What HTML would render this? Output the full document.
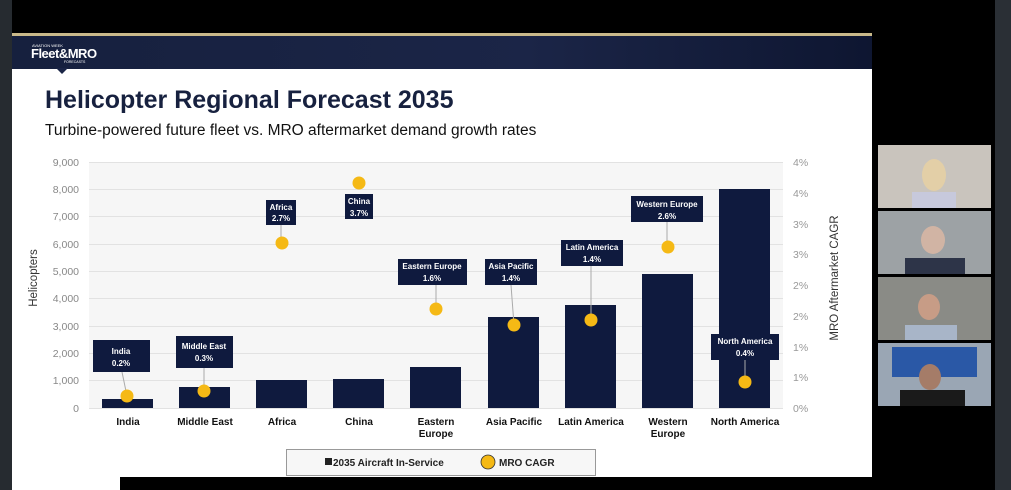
<!DOCTYPE html>
<html><head><meta charset="utf-8"><style>
body{margin:0;width:1011px;height:490px;overflow:hidden;background:#000;position:relative;font-family:"Liberation Sans",sans-serif}
</style></head><body>
<div style="position:absolute;left:0;top:0;width:12px;height:490px;background:#262b30"></div>
<div style="position:absolute;left:995px;top:0;width:16px;height:490px;background:#2a2f35"></div>
<div style="position:absolute;left:12px;top:33px;width:860px;height:3px;background:#c9b98a"></div>
<div style="position:absolute;left:12px;top:36px;width:860px;height:33px;background:linear-gradient(90deg,#16203e,#1b2547 60%,#0e1631)"></div>
<div style="position:absolute;left:12px;top:69px;width:860px;height:421px;background:#fff"></div>
<div style="position:absolute;left:120px;top:477px;width:752px;height:13px;background:#000"></div>
<div style="position:absolute;left:32px;top:43px;color:#fff;font-size:4px">AVIATION WEEK</div>
<div style="position:absolute;left:31px;top:46px;color:#fff;font-size:13px;font-weight:bold;letter-spacing:-0.5px">Fleet&amp;MRO</div>
<div style="position:absolute;left:64px;top:60px;color:#fff;font-size:3.5px">FORECASTS</div>
<div style="position:absolute;left:56px;top:68px;width:0;height:0;border-left:6px solid transparent;border-right:6px solid transparent;border-top:6px solid #1b2547"></div>
<div style="position:absolute;left:45px;top:86px;color:#17213f;font-size:25px;font-weight:bold">Helicopter Regional Forecast 2035</div>
<div style="position:absolute;left:45px;top:122px;color:#111;font-size:15.5px">Turbine-powered future fleet vs. MRO aftermarket demand growth rates</div>
<svg style="position:absolute;left:0;top:0" width="1011" height="490" font-family="Liberation Sans, sans-serif">
<rect x="89" y="162" width="694" height="246" fill="#f6f6f6"/>
<g stroke="#e2e2e2" stroke-width="1">
<line x1="89" x2="783" y1="162.5" y2="162.5"/><line x1="89" x2="783" y1="189.5" y2="189.5"/><line x1="89" x2="783" y1="216.5" y2="216.5"/><line x1="89" x2="783" y1="244.5" y2="244.5"/><line x1="89" x2="783" y1="271.5" y2="271.5"/><line x1="89" x2="783" y1="298.5" y2="298.5"/><line x1="89" x2="783" y1="326.5" y2="326.5"/><line x1="89" x2="783" y1="353.5" y2="353.5"/><line x1="89" x2="783" y1="380.5" y2="380.5"/><line x1="89" x2="783" y1="408.5" y2="408.5"/>
</g>
<g font-size="10.5" fill="#888" text-anchor="end">
<text x="79" y="166">9,000</text><text x="79" y="193">8,000</text><text x="79" y="220">7,000</text><text x="79" y="248">6,000</text><text x="79" y="275">5,000</text><text x="79" y="302">4,000</text><text x="79" y="330">3,000</text><text x="79" y="357">2,000</text><text x="79" y="384">1,000</text><text x="79" y="412">0</text>
</g>
<g font-size="10.5" fill="#999">
<text x="793" y="166">4%</text><text x="793" y="197">4%</text><text x="793" y="228">3%</text><text x="793" y="258">3%</text><text x="793" y="289">2%</text><text x="793" y="320">2%</text><text x="793" y="351">1%</text><text x="793" y="381">1%</text><text x="793" y="412">0%</text>
</g>
<text transform="translate(37,278) rotate(-90)" font-size="11.5" fill="#333" text-anchor="middle">Helicopters</text>
<text transform="translate(838,278) rotate(-90)" font-size="11.5" fill="#333" text-anchor="middle">MRO Aftermarket CAGR</text>
<g fill="#0f1a3e">
<rect x="102" y="399" width="51" height="9"/><rect x="179" y="387" width="51" height="21"/><rect x="256" y="380" width="51" height="28"/><rect x="333" y="379" width="51" height="29"/><rect x="410" y="367" width="51" height="41"/><rect x="488" y="317" width="51" height="91"/><rect x="565" y="305" width="51" height="103"/><rect x="642" y="274" width="51" height="134"/><rect x="719" y="189" width="51" height="219"/>
</g>
<g stroke="#aaa" stroke-width="1">
<line x1="122" y1="372" x2="127" y2="396"/><line x1="204" y1="368" x2="204" y2="391"/><line x1="281" y1="224" x2="281" y2="243"/><line x1="436" y1="285" x2="436" y2="309"/><line x1="511" y1="285" x2="514" y2="325"/><line x1="591" y1="266" x2="591" y2="320"/><line x1="667" y1="222" x2="667" y2="246"/><line x1="745" y1="360" x2="745" y2="382"/>
</g>
<g fill="#f5b915">
<circle cx="127" cy="396" r="6.5"/><circle cx="204" cy="391" r="6.5"/><circle cx="282" cy="243" r="6.5"/><circle cx="359" cy="183" r="6.5"/><circle cx="436" cy="309" r="6.5"/><circle cx="514" cy="325" r="6.5"/><circle cx="591" cy="320" r="6.5"/><circle cx="668" cy="247" r="6.5"/><circle cx="745" cy="382" r="6.5"/>
</g>
<g fill="#0f1a3e">
<rect x="93" y="340" width="57" height="32"/><rect x="176" y="336" width="57" height="32"/><rect x="266" y="200" width="30" height="25"/><rect x="345" y="194" width="28" height="25"/><rect x="398" y="259" width="69" height="26"/><rect x="485" y="259" width="52" height="26"/><rect x="561" y="240" width="62" height="26"/><rect x="631" y="196" width="72" height="26"/><rect x="711" y="334" width="68" height="26"/>
</g>
<g font-size="8" font-weight="bold" fill="#fff" text-anchor="middle">
<text x="121" y="354">India</text><text x="121" y="366">0.2%</text>
<text x="204" y="349">Middle East</text><text x="204" y="361">0.3%</text>
<text x="281" y="210">Africa</text><text x="281" y="221">2.7%</text>
<text x="359" y="204">China</text><text x="359" y="216">3.7%</text>
<text x="432" y="269">Eastern Europe</text><text x="432" y="281">1.6%</text>
<text x="511" y="269">Asia Pacific</text><text x="511" y="281">1.4%</text>
<text x="592" y="250">Latin America</text><text x="592" y="262">1.4%</text>
<text x="667" y="207">Western Europe</text><text x="667" y="219">2.6%</text>
<text x="745" y="344">North America</text><text x="745" y="356">0.4%</text>
</g>
<g font-size="10" font-weight="bold" fill="#111" text-anchor="middle">
<text x="128" y="425">India</text><text x="205" y="425">Middle East</text><text x="282" y="425">Africa</text><text x="359" y="425">China</text><text x="436" y="425">Eastern</text><text x="436" y="437">Europe</text><text x="514" y="425">Asia Pacific</text><text x="591" y="425">Latin America</text><text x="668" y="425">Western</text><text x="668" y="437">Europe</text><text x="745" y="425">North America</text>
</g>
<rect x="286.5" y="449.5" width="309" height="26" fill="#f7f7f7" stroke="#999"/>
<rect x="325" y="458" width="7" height="7" fill="#222"/>
<text x="333" y="466" font-size="10" font-weight="bold" fill="#222">2035 Aircraft In-Service</text>
<circle cx="488" cy="462" r="7" fill="#f5b915" stroke="#333" stroke-width="0.8"/>
<text x="499" y="466" font-size="10" font-weight="bold" fill="#222">MRO CAGR</text>
<rect x="878" y="145" width="113" height="63" fill="#c9c4bd"/>
<rect x="878" y="211" width="113" height="63" fill="#9da2a5"/>
<rect x="878" y="277" width="113" height="63" fill="#8a8b86"/>
<rect x="878" y="343" width="113" height="63" fill="#9aa6b4"/>
<rect x="892" y="347" width="85" height="30" fill="#2a58a6"/>
<ellipse cx="934" cy="175" rx="12" ry="16" fill="#e3cfa7"/><rect x="912" y="192" width="44" height="16" fill="#c7c9dc"/>
<ellipse cx="933" cy="240" rx="12" ry="14" fill="#d1b4a4"/><rect x="905" y="258" width="60" height="16" fill="#2d3448"/>
<ellipse cx="929" cy="307" rx="11" ry="13" fill="#c79c86"/><rect x="905" y="325" width="52" height="15" fill="#a8b5c8"/>
<ellipse cx="930" cy="377" rx="11" ry="13" fill="#a57c68"/><rect x="900" y="390" width="65" height="16" fill="#1a1a1a"/>
</svg>
</body></html>
